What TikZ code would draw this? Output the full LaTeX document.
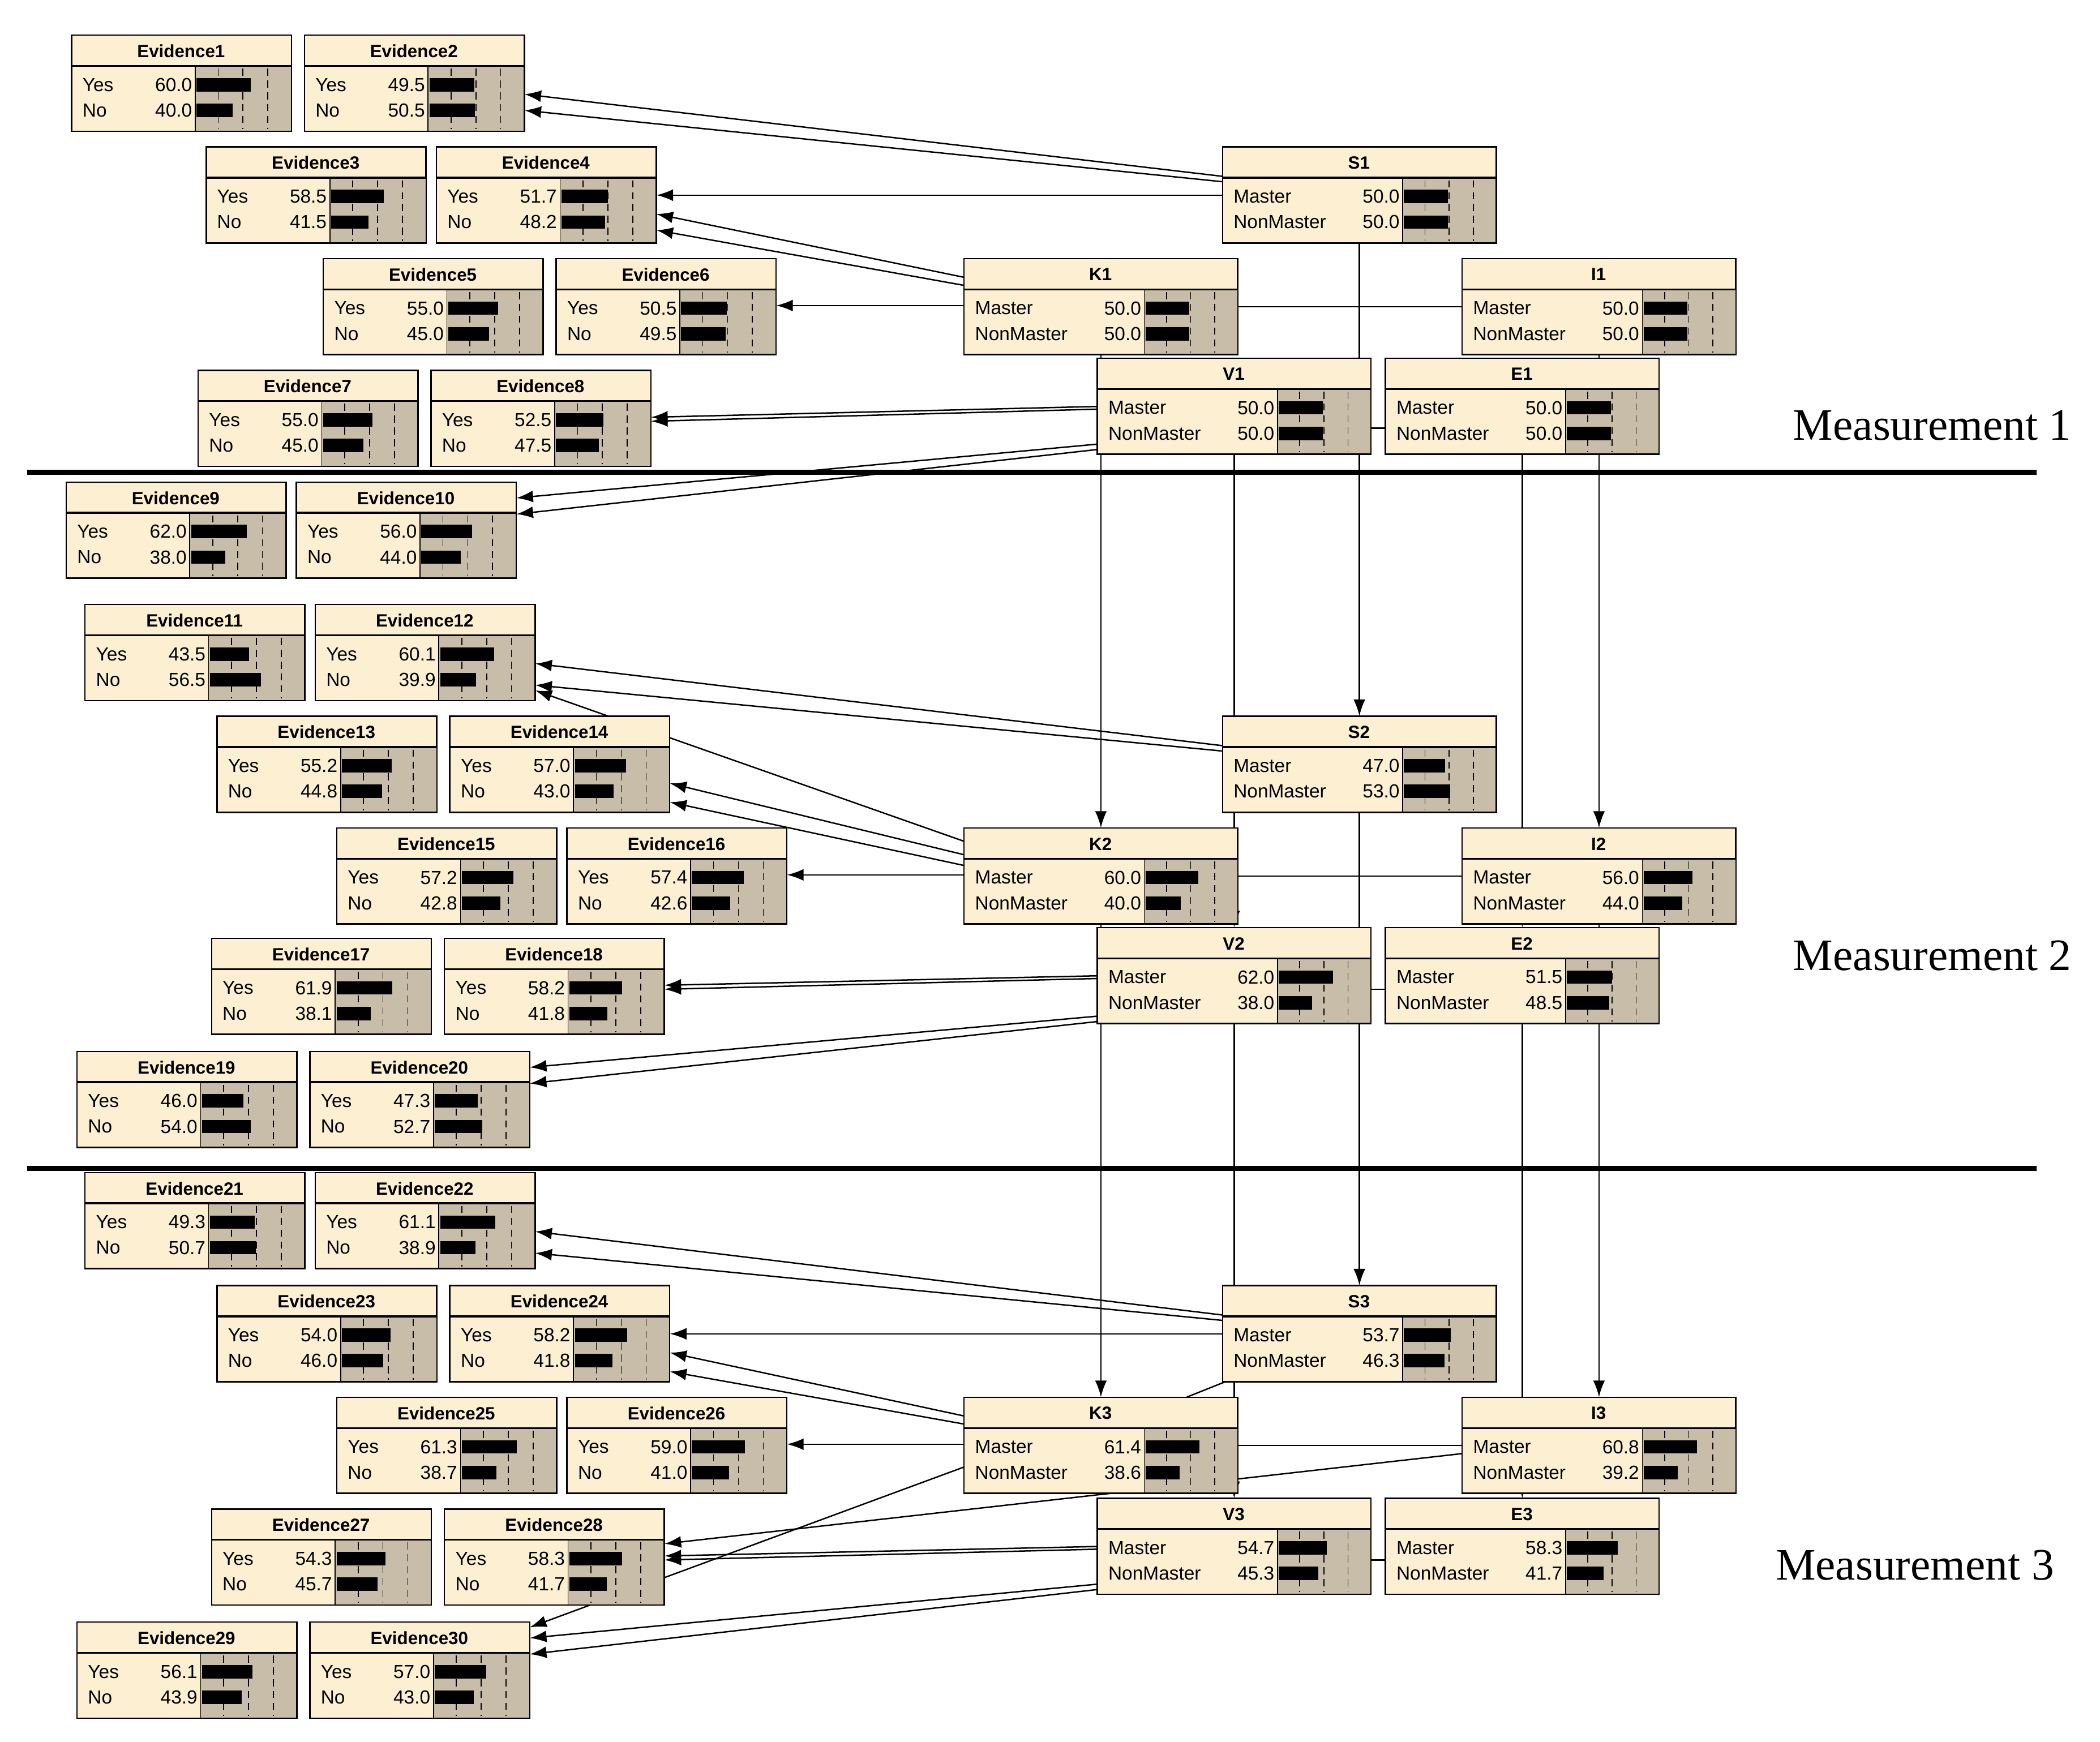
\documentclass[tikz,border=0pt]{standalone}
\usepackage{fontspec}
\setmainfont{Liberation Sans}
\newfontfamily\measfont{Liberation Serif}
\usepackage{xcolor}
\usetikzlibrary{positioning, calc, arrows.meta, backgrounds}
\definecolor{bnhead}{RGB}{253,240,210}
\definecolor{bnbar}{RGB}{200,189,168}

% box width and start of the bar area, set before each group
\def\bnw{163}\def\bns{92}
\newcommand{\bnbox}[8]{%
  \node[bnframe, minimum width=\bnw*0.2mm] (#1) at (#2,#3) {};
  \fill[bnbar] ({#2+\bns},{#3+23}) rectangle ({#2+\bnw},{#3+71});
  \draw[thick] (#2,{#3+23}) -- ({#2+\bnw},{#3+23});
  \draw (#1.north west) rectangle (#1.south east);
  \draw ({#2+\bns},{#3+23}) -- ({#2+\bns},{#3+71});
  \foreach \f in {0.24,0.5,0.76}
    \draw[densely dashed, thin] ({#2+\bns+\f*(\bnw-\bns)},{#3+25}) -- ({#2+\bns+\f*(\bnw-\bns)},{#3+70});
  \fill ({#2+\bns+1},{#3+32}) rectangle ({#2+\bns+1+#6/100*(\bnw-\bns-4)},{#3+42});
  \fill ({#2+\bns+1},{#3+51}) rectangle ({#2+\bns+1+#8/100*(\bnw-\bns-4)},{#3+61});
  \node[bntitle] at ({#2+\bnw/2},{#3+12}) {#4};
  \node[bnrow, anchor=west] at ({#2+8},{#3+37}) {#5};
  \node[bnrow, anchor=east] at ({#2+\bns-2},{#3+37}) {#6};
  \node[bnrow, anchor=west] at ({#2+8},{#3+56}) {#7};
  \node[bnrow, anchor=east] at ({#2+\bns-2},{#3+56}) {#8};
}

\begin{document}
\begin{tikzpicture}[x=0.02cm, y=-0.02cm]
\tikzstyle{bnframe} = [rectangle, draw=black, fill=bnhead, anchor=north west, inner sep=0pt, minimum height=71*0.2mm]
\tikzstyle{bntitle} = [font=\fontsize{7.5}{9}\selectfont\bfseries, inner sep=0pt]
\tikzstyle{bnrow}   = [font=\fontsize{8}{9}\selectfont, inner sep=0pt]
\tikzstyle{link}    = [-{Latex[length=7pt,width=5pt]}, semithick]
\tikzstyle{plain}   = [semithick]
\useasboundingbox (0,0) rectangle (1560,1294);

% evidence nodes
\def\bnw{163}\def\bns{92}
\bnbox{ev1}{53}{26}{Evidence1}{Yes}{60.0}{No}{40.0}
\bnbox{ev2}{226}{26}{Evidence2}{Yes}{49.5}{No}{50.5}
\bnbox{ev3}{153}{109}{Evidence3}{Yes}{58.5}{No}{41.5}
\bnbox{ev4}{324}{109}{Evidence4}{Yes}{51.7}{No}{48.2}
\bnbox{ev5}{240}{192}{Evidence5}{Yes}{55.0}{No}{45.0}
\bnbox{ev6}{413}{192}{Evidence6}{Yes}{50.5}{No}{49.5}
\bnbox{ev7}{147}{275}{Evidence7}{Yes}{55.0}{No}{45.0}
\bnbox{ev8}{320}{275}{Evidence8}{Yes}{52.5}{No}{47.5}
\bnbox{ev9}{49}{358}{Evidence9}{Yes}{62.0}{No}{38.0}
\bnbox{ev10}{220}{358}{Evidence10}{Yes}{56.0}{No}{44.0}
\bnbox{ev11}{63}{449}{Evidence11}{Yes}{43.5}{No}{56.5}
\bnbox{ev12}{234}{449}{Evidence12}{Yes}{60.1}{No}{39.9}
\bnbox{ev13}{161}{532}{Evidence13}{Yes}{55.2}{No}{44.8}
\bnbox{ev14}{334}{532}{Evidence14}{Yes}{57.0}{No}{43.0}
\bnbox{ev15}{250}{615}{Evidence15}{Yes}{57.2}{No}{42.8}
\bnbox{ev16}{421}{615}{Evidence16}{Yes}{57.4}{No}{42.6}
\bnbox{ev17}{157}{697}{Evidence17}{Yes}{61.9}{No}{38.1}
\bnbox{ev18}{330}{697}{Evidence18}{Yes}{58.2}{No}{41.8}
\bnbox{ev19}{57}{781}{Evidence19}{Yes}{46.0}{No}{54.0}
\bnbox{ev20}{230}{781}{Evidence20}{Yes}{47.3}{No}{52.7}
\bnbox{ev21}{63}{871}{Evidence21}{Yes}{49.3}{No}{50.7}
\bnbox{ev22}{234}{871}{Evidence22}{Yes}{61.1}{No}{38.9}
\bnbox{ev23}{161}{955}{Evidence23}{Yes}{54.0}{No}{46.0}
\bnbox{ev24}{334}{955}{Evidence24}{Yes}{58.2}{No}{41.8}
\bnbox{ev25}{250}{1038}{Evidence25}{Yes}{61.3}{No}{38.7}
\bnbox{ev26}{421}{1038}{Evidence26}{Yes}{59.0}{No}{41.0}
\bnbox{ev27}{157}{1121}{Evidence27}{Yes}{54.3}{No}{45.7}
\bnbox{ev28}{330}{1121}{Evidence28}{Yes}{58.3}{No}{41.7}
\bnbox{ev29}{57}{1205}{Evidence29}{Yes}{56.1}{No}{43.9}
\bnbox{ev30}{230}{1205}{Evidence30}{Yes}{57.0}{No}{43.0}

% skill nodes
\def\bnw{203}\def\bns{134}
\bnbox{S1}{908}{109}{S1}{Master}{50.0}{NonMaster}{50.0}
\bnbox{K1}{716}{192}{K1}{Master}{50.0}{NonMaster}{50.0}
\bnbox{I1}{1086}{192}{I1}{Master}{50.0}{NonMaster}{50.0}
\bnbox{V1}{815}{266}{V1}{Master}{50.0}{NonMaster}{50.0}
\bnbox{E1}{1029}{266}{E1}{Master}{50.0}{NonMaster}{50.0}
\bnbox{S2}{908}{532}{S2}{Master}{47.0}{NonMaster}{53.0}
\bnbox{K2}{716}{615}{K2}{Master}{60.0}{NonMaster}{40.0}
\bnbox{I2}{1086}{615}{I2}{Master}{56.0}{NonMaster}{44.0}
\bnbox{V2}{815}{689}{V2}{Master}{62.0}{NonMaster}{38.0}
\bnbox{E2}{1029}{689}{E2}{Master}{51.5}{NonMaster}{48.5}
\bnbox{S3}{908}{955}{S3}{Master}{53.7}{NonMaster}{46.3}
\bnbox{K3}{716}{1038}{K3}{Master}{61.4}{NonMaster}{38.6}
\bnbox{I3}{1086}{1038}{I3}{Master}{60.8}{NonMaster}{39.2}
\bnbox{V3}{815}{1113}{V3}{Master}{54.7}{NonMaster}{45.3}
\bnbox{E3}{1029}{1113}{E3}{Master}{58.3}{NonMaster}{41.7}

\node[font=\measfont\fontsize{19}{22}\selectfont, anchor=east] (m1) at (1545,316) {Measurement 1};
\node[font=\measfont\fontsize{19}{22}\selectfont, anchor=east] (m2) at (1545,710) {Measurement 2};
\node[font=\measfont\fontsize{19}{22}\selectfont, anchor=east] (m3) at (1532,1163) {Measurement 3};

\begin{pgfonlayer}{background}
\draw[line width=2.2pt] (20,351) -- (1513,351);
\draw[line width=2.2pt] (20,868) -- (1513,868);
% measurement 1
\draw[link] ($(S1.north west)+(0,22)$) -- ($(ev2.north east)+(0,44)$);
\draw[link] ($(S1.north west)+(0,26)$) -- ($(ev2.north east)+(0,56)$);
\draw[link] ($(S1.north west)+(0,36)$) -- ($(ev4.north east)+(0,36)$);
\draw[link] ($(K1.north west)+(0,14)$) -- ($(ev4.north east)+(0,50)$);
\draw[link] ($(K1.north west)+(0,20)$) -- ($(ev4.north east)+(0,62)$);
\draw[link] ($(K1.north west)+(0,35)$) -- ($(ev6.north east)+(0,35)$);
\draw[link] ($(V1.north west)+(0,36)$) -- ($(ev8.north east)+(0,35)$);
\draw[link] ($(V1.north west)+(0,38)$) -- ($(ev8.north east)+(0,38)$);
\draw[link] ($(V1.north west)+(0,64)$) -- ($(ev10.north east)+(0,12)$);
\draw[link] ($(V1.north west)+(0,68)$) -- ($(ev10.north east)+(0,24)$);
\draw[plain] ($(K1.north east)+(0,36)$) -- ($(I1.north west)+(0,36)$);
\draw[plain] ($(V1.north east)+(0,52)$) -- ($(E1.north west)+(0,52)$);
\draw[link] (K1.south) -- (K2.north);
\draw[link] (V1.south) -- (V2.north);
\draw[link] (S1.south) -- (S2.north);
\draw[link] (E1.south) -- (E2.north);
\draw[link] (I1.south) -- (I2.north);
% measurement 2
\draw[link] ($(S2.north west)+(0,22)$) -- ($(ev12.north east)+(0,44)$);
\draw[link] ($(S2.north west)+(0,26)$) -- ($(ev12.north east)+(0,60)$);
\draw[link] ($(K2.north west)+(0,10)$) -- ($(ev12.north east)+(0,64)$);
\draw[link] ($(K2.north west)+(0,20)$) -- ($(ev14.north east)+(0,50)$);
\draw[link] ($(K2.north west)+(0,28)$) -- ($(ev14.north east)+(0,64)$);
\draw[link] ($(K2.north west)+(0,35)$) -- ($(ev16.north east)+(0,35)$);
\draw[link] ($(V2.north west)+(0,36)$) -- ($(ev18.north east)+(0,35)$);
\draw[link] ($(V2.north west)+(0,38)$) -- ($(ev18.north east)+(0,38)$);
\draw[link] ($(V2.north west)+(0,66)$) -- ($(ev20.north east)+(0,12)$);
\draw[link] ($(V2.north west)+(0,70)$) -- ($(ev20.north east)+(0,24)$);
\draw[plain] ($(K2.north east)+(0,36)$) -- ($(I2.north west)+(0,36)$);
\draw[plain] ($(V2.north east)+(0,46)$) -- ($(E2.north west)+(0,46)$);
\draw[link] (K2.south) -- (K3.north);
\draw[link] (V2.south) -- (V3.north);
\draw[link] (S2.south) -- (S3.north);
\draw[link] (E2.south) -- (E3.north);
\draw[link] (I2.south) -- (I3.north);
% measurement 3
\draw[link] ($(S3.north west)+(0,22)$) -- ($(ev22.north east)+(0,44)$);
\draw[link] ($(S3.north west)+(0,26)$) -- ($(ev22.north east)+(0,60)$);
\draw[link] ($(S3.north west)+(0,36)$) -- ($(ev24.north east)+(0,36)$);
\draw[link] ($(K3.north west)+(0,14)$) -- ($(ev24.north east)+(0,50)$);
\draw[link] ($(K3.north west)+(0,20)$) -- ($(ev24.north east)+(0,64)$);
\draw[link] ($(K3.north west)+(0,35)$) -- ($(ev26.north east)+(0,35)$);
\draw[link] ($(V3.north west)+(0,36)$) -- ($(ev28.north east)+(0,35)$);
\draw[link] ($(V3.north west)+(0,38)$) -- ($(ev28.north east)+(0,38)$);
\draw[link] ($(V3.north west)+(0,64)$) -- ($(ev30.north east)+(0,12)$);
\draw[link] ($(V3.north west)+(0,68)$) -- ($(ev30.north east)+(0,24)$);
\draw[link] ($(K3.north west)+(0,52)$) -- ($(ev30.north east)+(0,4)$);
\draw[link] ($(I3.north west)+(0,42)$) -- ($(ev28.north east)+(0,26)$);
\draw[plain] ($(S3.south west)+(2,0)$) -- ($(K3.north east)+(-38,0)$);
\draw[plain] ($(K3.north east)+(0,36)$) -- ($(I3.north west)+(0,36)$);
\draw[plain] ($(V3.north east)+(0,46)$) -- ($(E3.north west)+(0,46)$);
\end{pgfonlayer}
\end{tikzpicture}
\end{document}
